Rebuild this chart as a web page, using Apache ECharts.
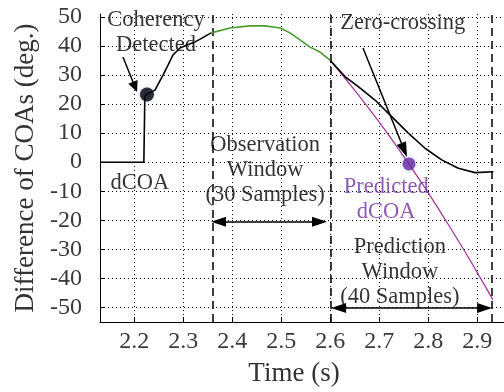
<!DOCTYPE html>
<html><head><meta charset="utf-8">
<script src="https://cdn.jsdelivr.net/npm/echarts@6/dist/echarts.min.js"></script>
<style>html,body{margin:0;padding:0;background:#fff}#c{width:504px;height:392px}</style>
</head><body><div id="c"></div>
<script>
// ---- data ----
const xTicks = [2.2, 2.3, 2.4, 2.5, 2.6, 2.7, 2.8, 2.9];
const yTicks = [-50, -40, -30, -20, -10, 0, 10, 20, 30, 40, 50];

const preObsT = [2.13, 2.2195, 2.2215, 2.2259, 2.2422, 2.2586, 2.2688, 2.279, 2.2933, 2.3076, 2.3239, 2.3382, 2.3567];
const preObsV = [0, 0, 22.5, 23.5, 24.8, 30.0, 33.4, 36.9, 39.3, 40.3, 41.4, 42.7, 44.5];

const obsT = [2.3567, 2.3953, 2.4361, 2.4667, 2.4973, 2.5178, 2.5382, 2.5586, 2.579, 2.6];
const obsV = [44.5, 46.2, 46.9, 46.9, 46.2, 44.5, 42.1, 39.6, 37.9, 35.0];

const postT = [2.6, 2.6306, 2.6571, 2.6912, 2.7253, 2.7592, 2.7933, 2.8273, 2.8612, 2.8953, 2.9327];
const postV = [35.0, 29.4, 26.0, 21.4, 15.7, 10.0, 4.8, 0.8, -2.1, -3.6, -3.3];

const predT = [2.6, 2.6402, 2.681, 2.7218, 2.7627, 2.8035, 2.8443, 2.8851, 2.932];
const predV = [35.0, 26.8, 18.0, 8.7, -1.2, -11.5, -22.4, -33.7, -47.4];

const coherencyPoint = [2.2259, 23.3];
const zeroCrossPoint = [2.7606, -0.6];

const windowBounds = [2.3567, 2.6, 2.9333];

const annoText = ['Coherency\nDetected', 'dCOA', 'Observation\nWindow\n(30 Samples)', 'Zero-crossing', 'Predicted\ndCOA', 'Prediction\nWindow\n(40 Samples)'];
const annoX = [2.2443, 2.2116, 2.467, 2.748, 2.714, 2.742];
const annoY = [44.6, -7.2, -2.7, 47.9, -13.0, -37.8];
const annoColor = ['#000', '#000', '#000', '#000', '#7030a0', '#000'];

// ---- build ----
const zip = (t, v) => t.map((x, i) => [x, v[i]]);
const FONT = '"Liberation Serif", "Times New Roman", Times, serif';
const tickRich = {t: {fontFamily: FONT, fontSize: 24, color: '#3a3a3a'}};

const head = {symbol: 'triangle', symbolSize: [10, 15]};

const chart = echarts.init(document.getElementById('c'), null, {renderer: 'canvas'});
chart.setOption({
  animation: false,
  backgroundColor: '#fff',
  textStyle: {fontFamily: FONT},
  grid: {left: 100, right: 0, top: 14, bottom: 70, containLabel: false},
  xAxis: {
    type: 'value', min: 2.13, max: 2.9545,
    name: 'Time (s)', nameLocation: 'middle', nameGap: 38,
    nameTextStyle: {fontFamily: FONT, fontSize: 27, color: '#333', padding: [0, 16, 0, 0]},
    axisLine: {show: true, onZero: false, lineStyle: {color: '#000', width: 1}},
    axisTick: {show: true, inside: true, length: 5, customValues: xTicks, lineStyle: {color: '#000'}},
    axisLabel: {customValues: xTicks, fontFamily: FONT, fontSize: 24, color: '#3a3a3a', margin: 8,
      formatter: v => '{t|' + v.toFixed(1) + '}', rich: tickRich},
    splitLine: {show: true, lineStyle: {color: '#000', type: [1, 3], width: 1}}
  },
  yAxis: {
    type: 'value', min: -55, max: 51,
    name: 'Difference of COAs (deg.)', nameLocation: 'middle', nameGap: 60, nameRotate: 90,
    nameTextStyle: {fontFamily: FONT, fontSize: 27, color: '#333'},
    axisLine: {show: true, onZero: false, lineStyle: {color: '#000', width: 1}},
    axisTick: {show: true, inside: true, length: 5, customValues: yTicks, lineStyle: {color: '#000'}},
    axisLabel: {customValues: yTicks, fontFamily: FONT, fontSize: 24, color: '#3a3a3a', margin: 18,
      formatter: v => '{t|' + Math.round(v) + '}', rich: tickRich},
    splitLine: {show: true, lineStyle: {color: '#000', type: [1, 3], width: 1}}
  },
  series: [
    {
      name: 'dCOA pre', type: 'line', data: zip(preObsT, preObsV), showSymbol: false,
      lineStyle: {color: '#000', width: 1.6}, z: 5,
      markLine: {
        silent: true, animation: false, symbol: ['none', 'none'],
        label: {show: false},
        lineStyle: {color: '#000', width: 1.5, type: 'solid'},
        emphasis: {disabled: true},
        data: [
          ...windowBounds.map(b => ({xAxis: b, lineStyle: {type: [8, 5], width: 1.5, color: '#000'}})),
          [{coord: [2.372, -20.5], ...head}, {coord: [2.578, -20.5], ...head}],
          [{coord: [2.617, -50.2], ...head}, {coord: [2.915, -50.2], ...head}],
          [{coord: [2.6667, 39.3], symbol: 'none'}, {coord: [2.7508, 4.2], ...head}],
          [{coord: [2.1769, 36.2], symbol: 'none', lineStyle: {curveness: -0.35, color: '#000', width: 1.5}},
           {coord: [2.2014, 25.9], symbol: 'triangle', symbolSize: [10, 11]}]
        ]
      }
    },
    {name: 'observation', type: 'line', data: zip(obsT, obsV), showSymbol: false,
      lineStyle: {color: '#4a9a2e', width: 1.6}, z: 6},
    {name: 'dCOA post', type: 'line', data: zip(postT, postV), showSymbol: false,
      lineStyle: {color: '#000', width: 1.6}, z: 5},
    {name: 'predicted', type: 'line', data: zip(predT, predV), showSymbol: false, smooth: 0.3,
      lineStyle: {color: '#a0309c', width: 1.2}, z: 4},
    {name: 'points', type: 'scatter', z: 8,
      data: [
        {value: coherencyPoint, symbolSize: 14, itemStyle: {color: '#000', shadowBlur: 4, shadowColor: 'rgba(80,120,200,0.5)'}},
        {value: zeroCrossPoint, symbolSize: 13, itemStyle: {color: '#6a2ca0', shadowBlur: 4, shadowColor: 'rgba(80,120,200,0.5)'}}
      ]},
    {name: 'annotations', type: 'scatter', z: 9, symbolSize: 1, itemStyle: {color: 'rgba(0,0,0,0)'}, silent: true,
      data: annoText.map((t, i) => ({value: [annoX[i], annoY[i]], name: t,
        label: {show: true, position: 'inside', formatter: '{b}', fontFamily: FONT, fontSize: 22.5,
          lineHeight: 25, color: annoColor[i], align: 'center', verticalAlign: 'middle'}}))
    }
  ]
});
</script></body></html>
